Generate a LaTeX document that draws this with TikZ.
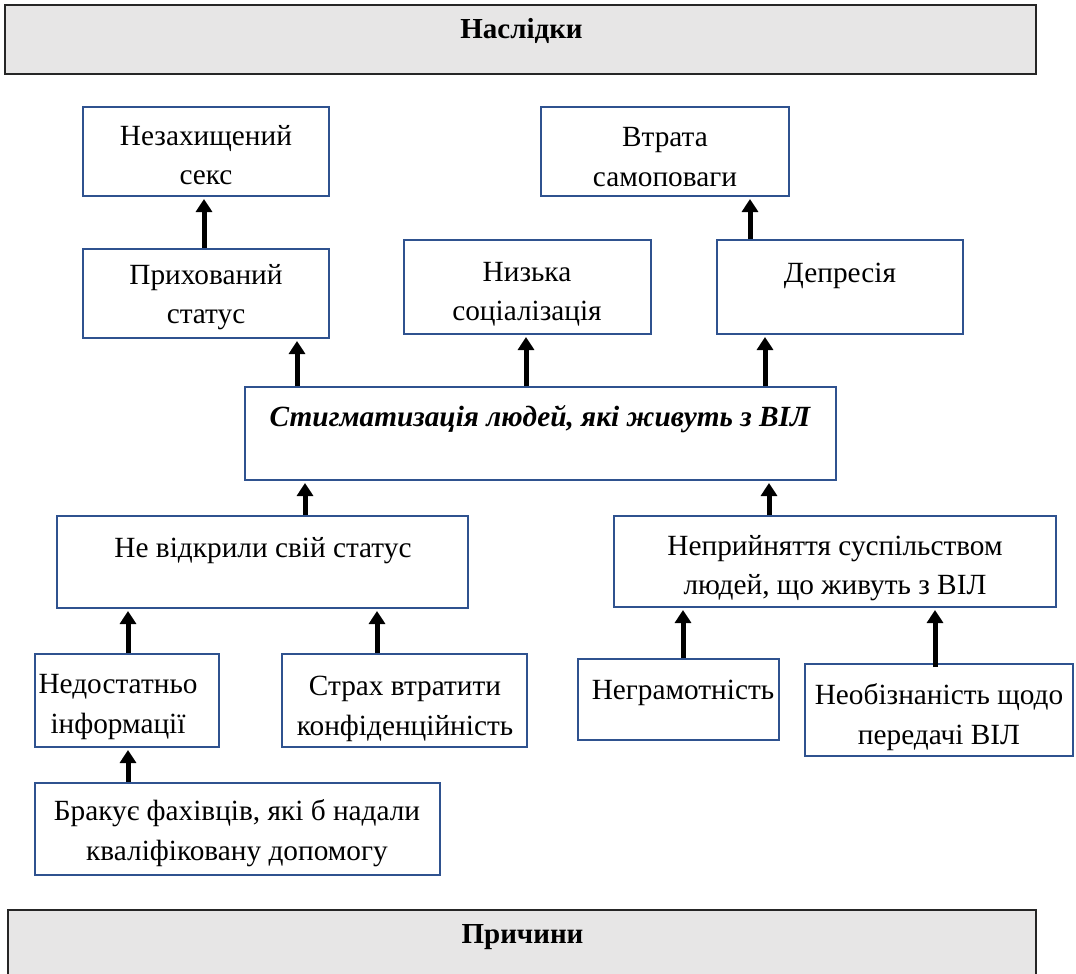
\documentclass[tikz,border=0pt]{standalone}
\usepackage{fontspec}
\setmainfont{Liberation Serif}
\usetikzlibrary{arrows.meta}
\definecolor{boxblue}{HTML}{2F528F}
\definecolor{headgray}{HTML}{E7E6E6}
\tikzset{
  box/.style={draw=boxblue, line width=2pt, minimum width=#1, inner sep=0pt},
  head/.style={draw=black!85, fill=headgray, line width=2pt, inner sep=0pt},
  txt/.style={align=center, inner sep=0pt, font=\fontsize{29.3}{39.5}\selectfont},
  htxt/.style={inner sep=0pt, font=\fontsize{29}{32}\selectfont\bfseries},
  arr/.style={line width=5pt, -{Triangle[width=16pt,length=13pt]}, shorten >=2pt}
}
\begin{document}
\begin{tikzpicture}[x=1pt,y=-1pt]
\useasboundingbox (0,0) rectangle (1076,974);
% headers
\node[head, minimum width=1031pt, minimum height=69pt] (nasl) at (520.5,40) {};
\node[htxt] (nasltxt) at (521.5,30.5) {Наслідки};
\node[head, minimum width=1028pt, minimum height=70pt] (prych) at (522,945) {};
\node[htxt] (prychtxt) at (522.5,937) {Причини};
% boxes
\node[box=246pt, minimum height=89pt] (nez) at (206,151.5) {};
\node[box=248pt, minimum height=89pt] (vtr) at (665,151.5) {};
\node[box=246pt, minimum height=89pt] (prih) at (206,293.5) {};
\node[box=247pt, minimum height=94pt] (nyz) at (527.5,287) {};
\node[box=246pt, minimum height=94pt] (dep) at (840,287) {};
\node[box=591pt, minimum height=93pt] (stig) at (540.5,433.5) {};
\node[box=411pt, minimum height=92pt] (nevid) at (262.5,562) {};
\node[box=442pt, minimum height=91pt] (nepr) at (835,561.5) {};
\node[box=184pt, minimum height=93pt] (nedost) at (127,700.5) {};
\node[box=245pt, minimum height=93pt] (strah) at (404.5,700.5) {};
\node[box=201pt, minimum height=81pt] (negr) at (678.5,699.5) {};
\node[box=268pt, minimum height=92pt] (neob) at (939,710) {};
\node[box=405pt, minimum height=92pt] (brak) at (237.5,829) {};
% texts
\node[txt] at (206,155) {Незахищений\\секс};
\node[txt] at (665,157) {Втрата\\самоповаги};
\node[txt] at (206,297) {Прихований\\статус};
\node[txt] at (527,294) {Низька\\соціалізація};
\node[txt] at (840,276) {Депресія};
\node[txt, font=\fontsize{29.3}{39.5}\selectfont\bfseries\itshape] at (540,419) {Стигматизація людей, які живуть з ВІЛ};
\node[txt] at (263,551) {Не відкрили свій статус};
\node[txt] at (835,568) {Неприйняття суспільством\\людей, що живуть з ВІЛ};
\node[txt] at (118,707) {Недостатньо\\інформації};
\node[txt] at (405,709) {Страх втратити\\конфіденційність};
\node[txt] at (683,693) {Неграмотність};
\node[txt] at (939,717) {Необізнаність щодо\\передачі ВІЛ};
\node[txt] at (237,833) {Бракує фахівців, які б надали\\кваліфіковану допомогу};
% arrows
\draw[arr] (prih.north -| 204,0) -- (nez.south -| 204,0);
\draw[arr] (stig.north -| 297,0) -- (prih.south -| 297,0);
\draw[arr] (stig.north -| 526,0) -- (nyz.south -| 526,0);
\draw[arr] (stig.north -| 765,0) -- (dep.south -| 765,0);
\draw[arr] (dep.north -| 750,0) -- (vtr.south -| 750,0);
\draw[arr] (nevid.north -| 305,0) -- (stig.south -| 305,0);
\draw[arr] (nepr.north -| 769,0) -- (stig.south -| 769,0);
\draw[arr] (nedost.north -| 128,0) -- (nevid.south -| 128,0);
\draw[arr] (strah.north -| 377,0) -- (nevid.south -| 377,0);
\draw[arr] (negr.north -| 683,0) -- (nepr.south -| 683,0);
\draw[arr] ([yshift=-4pt]neob.north -| 935,0) -- (nepr.south -| 935,0);
\draw[arr] (brak.north -| 128,0) -- (nedost.south -| 128,0);
\end{tikzpicture}
\end{document}
